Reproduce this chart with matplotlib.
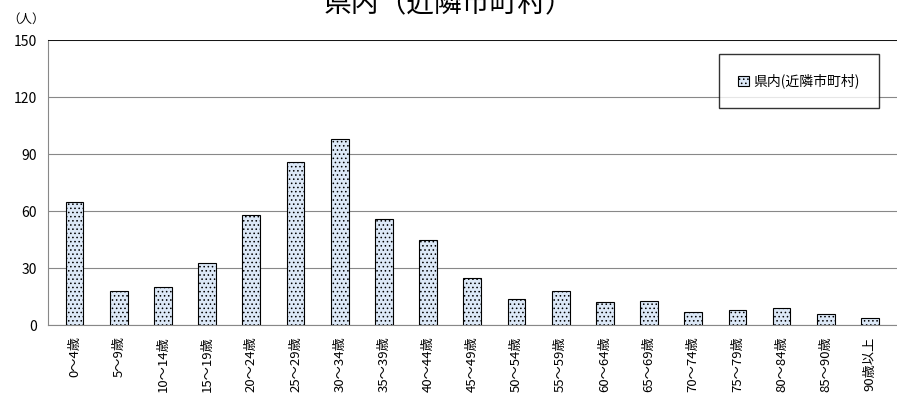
import matplotlib.pyplot as plt
import matplotlib as mpl

plt.rcParams['font.family'] = ['Noto Sans CJK JP', 'DejaVu Sans']
mpl.rcParams['hatch.color'] = '#2f4f8f'
mpl.rcParams['hatch.linewidth'] = 0.6

ages = ['0～4歳', '5～9歳', '10～14歳', '15～19歳', '20～24歳', '25～29歳', '30～34歳',
        '35～39歳', '40～44歳', '45～49歳', '50～54歳', '55～59歳', '60～64歳', '65～69歳',
        '70～74歳', '75～79歳', '80～84歳', '85～90歳', '90歳以上']
counts = [65, 18, 20, 33, 58, 86, 98, 56, 45, 25, 14, 18, 12, 13, 7, 8, 9, 6, 4]

fig = plt.figure(figsize=(8.97, 4.03), dpi=100)
ax = fig.add_axes([0.0535, 0.193, 0.946, 0.707])
ax.bar(range(len(ages)), counts, width=0.4, color='#dce8f7', edgecolor='black',
       linewidth=0.8, hatch='....', label='県内(近隣市町村)', zorder=3)
ax.set_xlim(-0.6, len(ages) - 0.4)
ax.set_ylim(0, 150)
ax.set_yticks(range(0, 151, 30))
ax.yaxis.grid(True, color='#888888', linewidth=0.8)
ax.tick_params(length=0, labelsize=10, pad=8)
ax.set_xticks(range(len(ages)))
ax.set_xticklabels(ages, rotation=90, fontsize=9.5)
for s in ['top', 'right']:
    ax.spines[s].set_visible(False)
ax.spines['left'].set_color('#888888')
ax.spines['bottom'].set_color('#888888')
ax.axhline(150, color='black', linewidth=1.2, zorder=4)

leg = ax.legend(loc='upper right', bbox_to_anchor=(0.988, 0.975), fancybox=False,
                edgecolor='black', fontsize=10, borderpad=1.4, handlelength=0.8,
                handletextpad=0.3)
leg.get_frame().set_linewidth(1)

fig.text(0.008, 0.953, '（人）', fontsize=9, va='center')
fig.text(0.5, 0.99, '県内（近隣市町村）', fontsize=20, ha='center', va='center')

fig.savefig('out.png', dpi=100)
plt.close()
